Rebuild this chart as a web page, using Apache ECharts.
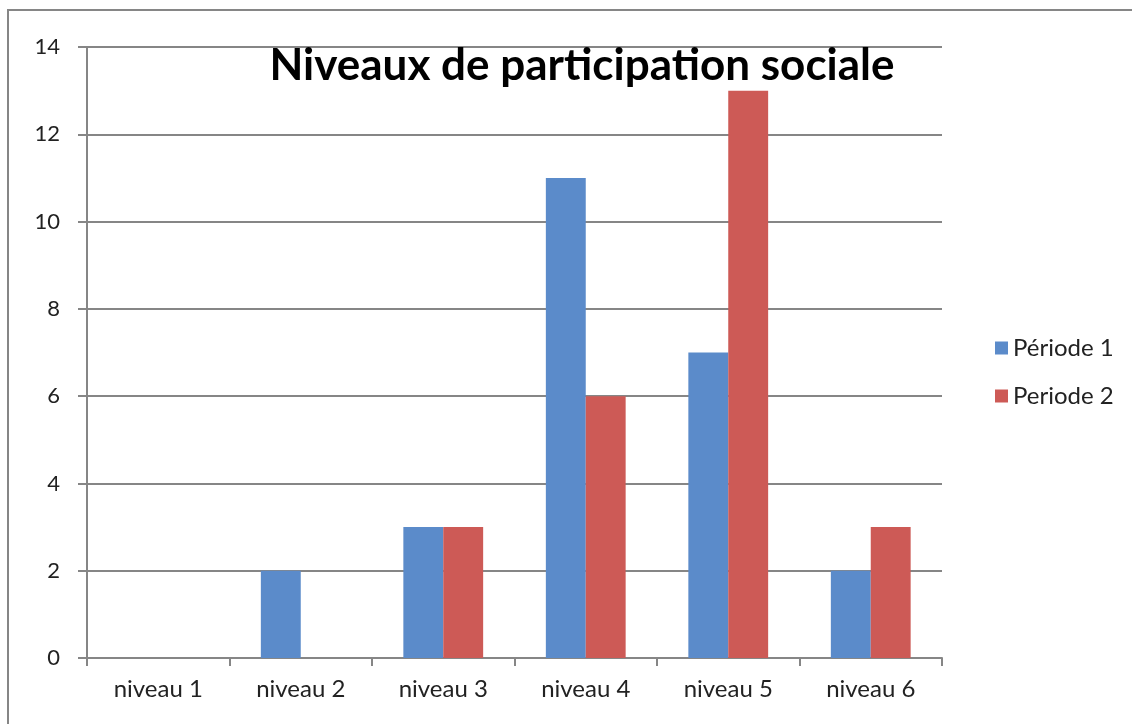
<!DOCTYPE html>
<html>
<head>
<meta charset="utf-8">
<script src="https://cdn.jsdelivr.net/npm/echarts@6/dist/echarts.min.js"></script>
<style>
html, body { margin: 0; padding: 0; background: #fff; }
#container { width: 1132px; height: 724px; }
</style>
</head>
<body>
<div id="container"></div>
<script>
var categories = ['niveau 1', 'niveau 2', 'niveau 3', 'niveau 4', 'niveau 5', 'niveau 6'];
var periode1 = [0, 2, 3, 11, 7, 2];
var periode2 = [0, 0, 3, 6, 13, 3];
var seriesNames = ['Période 1', 'Periode 2'];

var dom = document.getElementById('container');
var myChart = echarts.init(dom);
var gray = '#868686';
var font = 'Lato, "Open Sans", sans-serif';

var option = {
    animation: false,
    graphic: [{
        type: 'rect',
        shape: { x: 8, y: 10, width: 1140, height: 730 },
        style: { fill: 'none', stroke: gray, lineWidth: 2 },
        z: -1
    }],
    title: {
        text: 'Niveaux de participation sociale',
        left: 577,
        textAlign: 'center',
        top: 39,
        textStyle: { fontFamily: font, fontSize: 44, fontWeight: 'bold', color: '#000' }
    },
    legend: {
        orient: 'vertical',
        left: 990,
        top: 331,
        itemWidth: 13,
        itemHeight: 13,
        itemGap: 24,
        icon: 'rect',
        data: seriesNames,
        textStyle: { fontFamily: font, fontSize: 24, color: '#222' }
    },
    grid: { left: 87, top: 47, right: 190, bottom: 66 },
    xAxis: {
        type: 'category',
        data: categories,
        axisLine: { lineStyle: { color: gray, width: 2 } },
        axisTick: { show: true, length: 8, alignWithLabel: false, lineStyle: { color: gray, width: 2 } },
        axisLabel: { margin: 19, fontFamily: font, fontSize: 24, color: '#222' }
    },
    yAxis: {
        type: 'value',
        min: 0,
        max: 14,
        interval: 2,
        axisLine: { show: true, lineStyle: { color: gray, width: 2 } },
        axisTick: { show: true, length: 9, lineStyle: { color: gray, width: 2 } },
        splitLine: { lineStyle: { color: gray, width: 2 } },
        axisLabel: { margin: 27, fontFamily: font, fontSize: 22, color: '#222' }
    },
    series: [
        {
            name: seriesNames[0],
            type: 'bar',
            data: periode1,
            barGap: '0%',
            barCategoryGap: '44%',
            itemStyle: { color: '#5B8BCA' }
        },
        {
            name: seriesNames[1],
            type: 'bar',
            data: periode2,
            barGap: '0%',
            barCategoryGap: '44%',
            itemStyle: { color: '#CD5A56' }
        }
    ]
};

myChart.setOption(option, true);
</script>
</body>
</html>
